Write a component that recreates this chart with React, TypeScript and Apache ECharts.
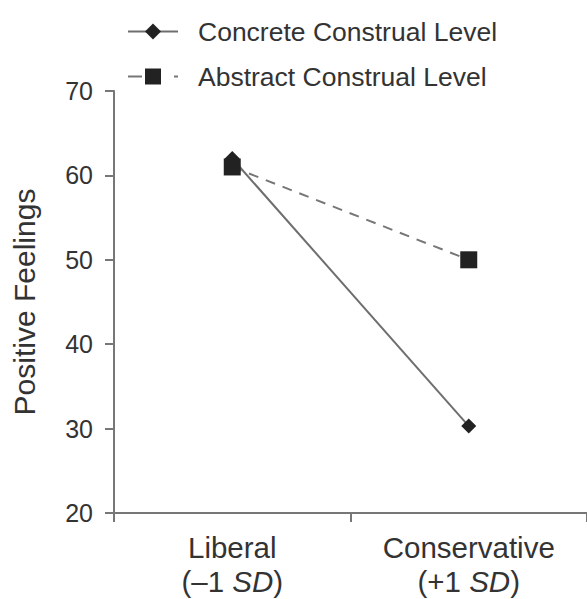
import React, { useEffect, useRef } from "react";
import * as echarts from "echarts";

const categories = ["Liberal", "Conservative"];
const categorySubLabels = ["(–1 SD)", "(+1 SD)"];
const concreteValues = [62, 30.3];
const abstractValues = [61, 50];
const seriesNames = ["Concrete Construal Level", "Abstract Construal Level"];
const yTicks = { min: 20, max: 70, interval: 10 };

const FONT = "'Liberation Sans', Arial, sans-serif";

export default function App() {
  const ref = useRef<HTMLDivElement>(null);
  useEffect(() => {
    if (!ref.current) return;
    const chart = echarts.init(ref.current, undefined, { renderer: "svg" });
    chart.setOption({
      animation: false,
      backgroundColor: "#ffffff",
      textStyle: { fontFamily: FONT },
      legend: {
        orient: "vertical",
        left: 122,
        top: 12,
        itemWidth: 50,
        itemHeight: 20,
        itemGap: 16,
        textStyle: {
          fontFamily: FONT,
          fontSize: 26.5,
          color: "#333333",
          padding: [0, 0, 0, 15],
          lineHeight: 29,
        },
        data: [
          { name: seriesNames[0] },
          { name: seriesNames[1], lineStyle: { type: [14, 32] } },
        ],
      },
      grid: { left: 114, right: 0, top: 91, bottom: 86, containLabel: false },
      xAxis: {
        type: "category",
        data: categories,
        boundaryGap: true,
        axisLine: { lineStyle: { color: "#777777", width: 2 } },
        axisTick: { show: true, length: 9, lineStyle: { color: "#777777", width: 2 } },
        axisLabel: {
          margin: 17,
          fontFamily: FONT,
          fontSize: 29.5,
          color: "#333333",
          lineHeight: 34,
          formatter: (v: string) => {
            const i = categories.indexOf(v);
            const sub = categorySubLabels[i].replace("SD", "{i|SD}");
            return v + "\n" + sub;
          },
          rich: {
            i: { fontStyle: "italic", fontFamily: FONT, fontSize: 29.5, color: "#333333", lineHeight: 34 },
          },
        },
        splitLine: { show: false },
      },
      yAxis: {
        type: "value",
        min: yTicks.min,
        max: yTicks.max,
        interval: yTicks.interval,
        name: "Positive Feelings",
        nameLocation: "middle",
        nameRotate: 90,
        nameGap: 75,
        nameTextStyle: { fontFamily: FONT, fontSize: 30, color: "#333333" },
        axisLine: { show: true, lineStyle: { color: "#777777", width: 2 } },
        axisTick: { show: true, length: 9, lineStyle: { color: "#777777", width: 2 } },
        axisLabel: { margin: 21, fontFamily: FONT, fontSize: 25, color: "#333333" },
        splitLine: { show: false },
      },
      series: [
        {
          name: seriesNames[0],
          type: "line",
          data: concreteValues,
          symbol: "diamond",
          symbolSize: 15,
          itemStyle: { color: "#222222" },
          lineStyle: { color: "#6e6e6e", width: 2, type: "solid" },
        },
        {
          name: seriesNames[1],
          type: "line",
          data: abstractValues,
          symbol: "rect",
          symbolSize: 17,
          itemStyle: { color: "#222222" },
          lineStyle: { color: "#777777", width: 2, type: [10, 8] },
        },
      ],
    });
    return () => chart.dispose();
  }, []);
  return (
    <div
      ref={ref}
      style={{ position: "fixed", left: 0, top: 0, width: 587, height: 599, background: "#fff" }}
    />
  );
}
